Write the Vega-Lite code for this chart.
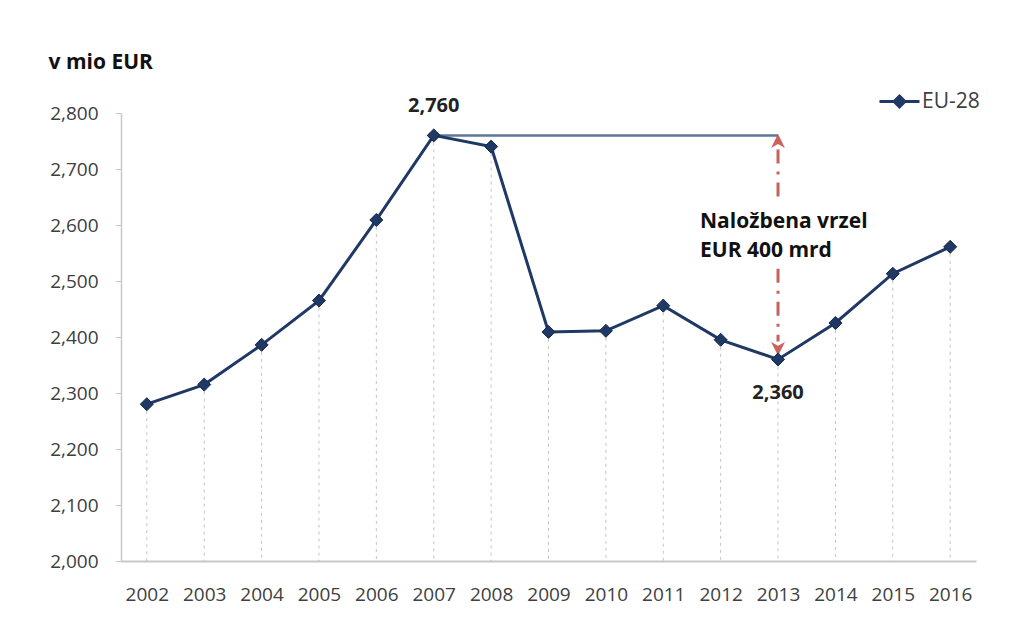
{
  "$schema": "https://vega.github.io/schema/vega-lite/v6.json",
  "width": 855,
  "height": 448,
  "autosize": {"type": "none"},
  "padding": {"left": 121, "top": 113, "right": 33, "bottom": 83},
  "background": "white",
  "config": {"view": {"stroke": null}, "font": "Open Sans"},
  "datasets": {
    "main": [
      {"year": "2002", "value": 2280, "series": "EU-28"},
      {"year": "2003", "value": 2315, "series": "EU-28"},
      {"year": "2004", "value": 2386, "series": "EU-28"},
      {"year": "2005", "value": 2465, "series": "EU-28"},
      {"year": "2006", "value": 2609, "series": "EU-28"},
      {"year": "2007", "value": 2760, "series": "EU-28"},
      {"year": "2008", "value": 2740, "series": "EU-28"},
      {"year": "2009", "value": 2409, "series": "EU-28"},
      {"year": "2010", "value": 2411, "series": "EU-28"},
      {"year": "2011", "value": 2456, "series": "EU-28"},
      {"year": "2012", "value": 2395, "series": "EU-28"},
      {"year": "2013", "value": 2360, "series": "EU-28"},
      {"year": "2014", "value": 2425, "series": "EU-28"},
      {"year": "2015", "value": 2513, "series": "EU-28"},
      {"year": "2016", "value": 2561, "series": "EU-28"}
    ],
    "peak": [{"from": "2007", "to": "2013", "v": 2760}],
    "gap": [
      {"year": "2013", "y1": 2735, "y2": 2648},
      {"year": "2013", "y1": 2522, "y2": 2392}
    ],
    "heads": [
      {"year": "2013", "v": 2747, "dir": "up"},
      {"year": "2013", "v": 2382, "dir": "down"}
    ],
    "top": [{"year": "2007", "v": 2760, "t": "2,760"}],
    "bottom": [{"year": "2013", "v": 2360, "t": "2,360"}],
    "note": [{"year": "2013", "v": 2595, "t": "Naložbena vrzel\nEUR 400 mrd"}]
  },
  "layer": [
    {
      "data": {"name": "main"},
      "mark": {"type": "rule", "color": "#c4c4c4", "strokeDash": [3, 4], "strokeWidth": 1},
      "encoding": {
        "x": {
          "field": "year", "type": "ordinal",
          "scale": {"type": "point", "padding": 0.45},
          "axis": {
            "title": null, "labelAngle": 0, "ticks": false, "tickSize": 0,
            "domainColor": "#c8c8c8", "domainWidth": 2,
            "labelFontSize": 19, "labelColor": "#404040", "labelFont": "Open Sans",
            "labelBaseline": "alphabetic", "labelPadding": 39
          }
        },
        "y": {
          "field": "value", "type": "quantitative",
          "scale": {"domain": [2000, 2800], "nice": false, "zero": false},
          "axis": {
            "title": "v mio EUR", "titleAngle": 0, "titleAlign": "left", "titleBaseline": "alphabetic",
            "titleX": -73, "titleY": -45, "titleFontSize": 21, "titleFontWeight": "bold", "titleColor": "#111111", "titleFont": "Open Sans",
            "values": [2000, 2100, 2200, 2300, 2400, 2500, 2600, 2700, 2800],
            "format": ",.0f", "grid": false,
            "domainColor": "#c8c8c8", "domainWidth": 1.5, "tickColor": "#c8c8c8", "tickSize": 6,
            "labelFontSize": 19, "labelColor": "#404040", "labelFont": "Open Sans", "labelPadding": 17
          }
        },
        "y2": {"datum": 2000}
      }
    },
    {
      "data": {"name": "peak"},
      "mark": {"type": "rule", "color": "#5a7799", "strokeWidth": 2.5},
      "encoding": {
        "x": {"field": "from", "type": "ordinal"},
        "x2": {"field": "to"},
        "y": {"field": "v", "type": "quantitative"}
      }
    },
    {
      "data": {"name": "gap"},
      "mark": {"type": "rule", "color": "#c0504d", "strokeWidth": 3, "strokeDash": [14, 8, 3, 8], "opacity": 0.9},
      "encoding": {
        "x": {"field": "year", "type": "ordinal"},
        "y": {"field": "y1", "type": "quantitative"},
        "y2": {"field": "y2"}
      }
    },
    {
      "data": {"name": "heads"},
      "mark": {"type": "point", "filled": true, "color": "#c9504d", "opacity": 0.9, "size": 300},
      "encoding": {
        "x": {"field": "year", "type": "ordinal"},
        "y": {"field": "v", "type": "quantitative"},
        "shape": {
          "field": "dir", "type": "nominal", "legend": null,
          "scale": {"domain": ["up", "down"], "range": ["M0,-1L0.8,0.6L0,0.15L-0.8,0.6Z", "M0,1L0.8,-0.6L0,-0.15L-0.8,-0.6Z"]}
        }
      }
    },
    {
      "data": {"name": "main"},
      "mark": {
        "type": "line", "strokeWidth": 3,
        "point": {"shape": "diamond", "size": 170, "filled": true, "stroke": "#16284a", "strokeWidth": 1}
      },
      "encoding": {
        "x": {"field": "year", "type": "ordinal"},
        "y": {"field": "value", "type": "quantitative"},
        "color": {
          "field": "series", "type": "nominal",
          "scale": {"range": ["#1f3864"]},
          "legend": {
            "title": null, "orient": "none", "legendX": 757, "legendY": -33,
            "symbolType": "M-1,0H1M0,-0.27L0.27,0L0,0.27L-0.27,0Z", "symbolSize": 1600,
            "labelFontSize": 21, "labelColor": "#404040", "labelFont": "Open Sans", "labelOffset": 1,
            "encode": {"symbols": {"update": {"fill": {"value": "#1f3864"}, "stroke": {"value": "#1f3864"}, "strokeWidth": {"value": 3}, "opacity": {"value": 1}}}}
          }
        }
      }
    },
    {
      "data": {"name": "top"},
      "mark": {"type": "text", "fontWeight": "bold", "fontSize": 20, "color": "#222222", "baseline": "alphabetic", "dy": -23},
      "encoding": {
        "x": {"field": "year", "type": "ordinal"},
        "y": {"field": "v", "type": "quantitative"},
        "text": {"field": "t"}
      }
    },
    {
      "data": {"name": "bottom"},
      "mark": {"type": "text", "fontWeight": "bold", "fontSize": 20, "color": "#222222", "baseline": "alphabetic", "dy": 40},
      "encoding": {
        "x": {"field": "year", "type": "ordinal"},
        "y": {"field": "v", "type": "quantitative"},
        "text": {"field": "t"}
      }
    },
    {
      "data": {"name": "note"},
      "mark": {"type": "text", "fontWeight": "bold", "fontSize": 21, "color": "#111111", "baseline": "alphabetic", "align": "left", "dx": -78, "lineBreak": "\n", "lineHeight": 29},
      "encoding": {
        "x": {"field": "year", "type": "ordinal"},
        "y": {"field": "v", "type": "quantitative"},
        "text": {"field": "t"}
      }
    }
  ]
}
